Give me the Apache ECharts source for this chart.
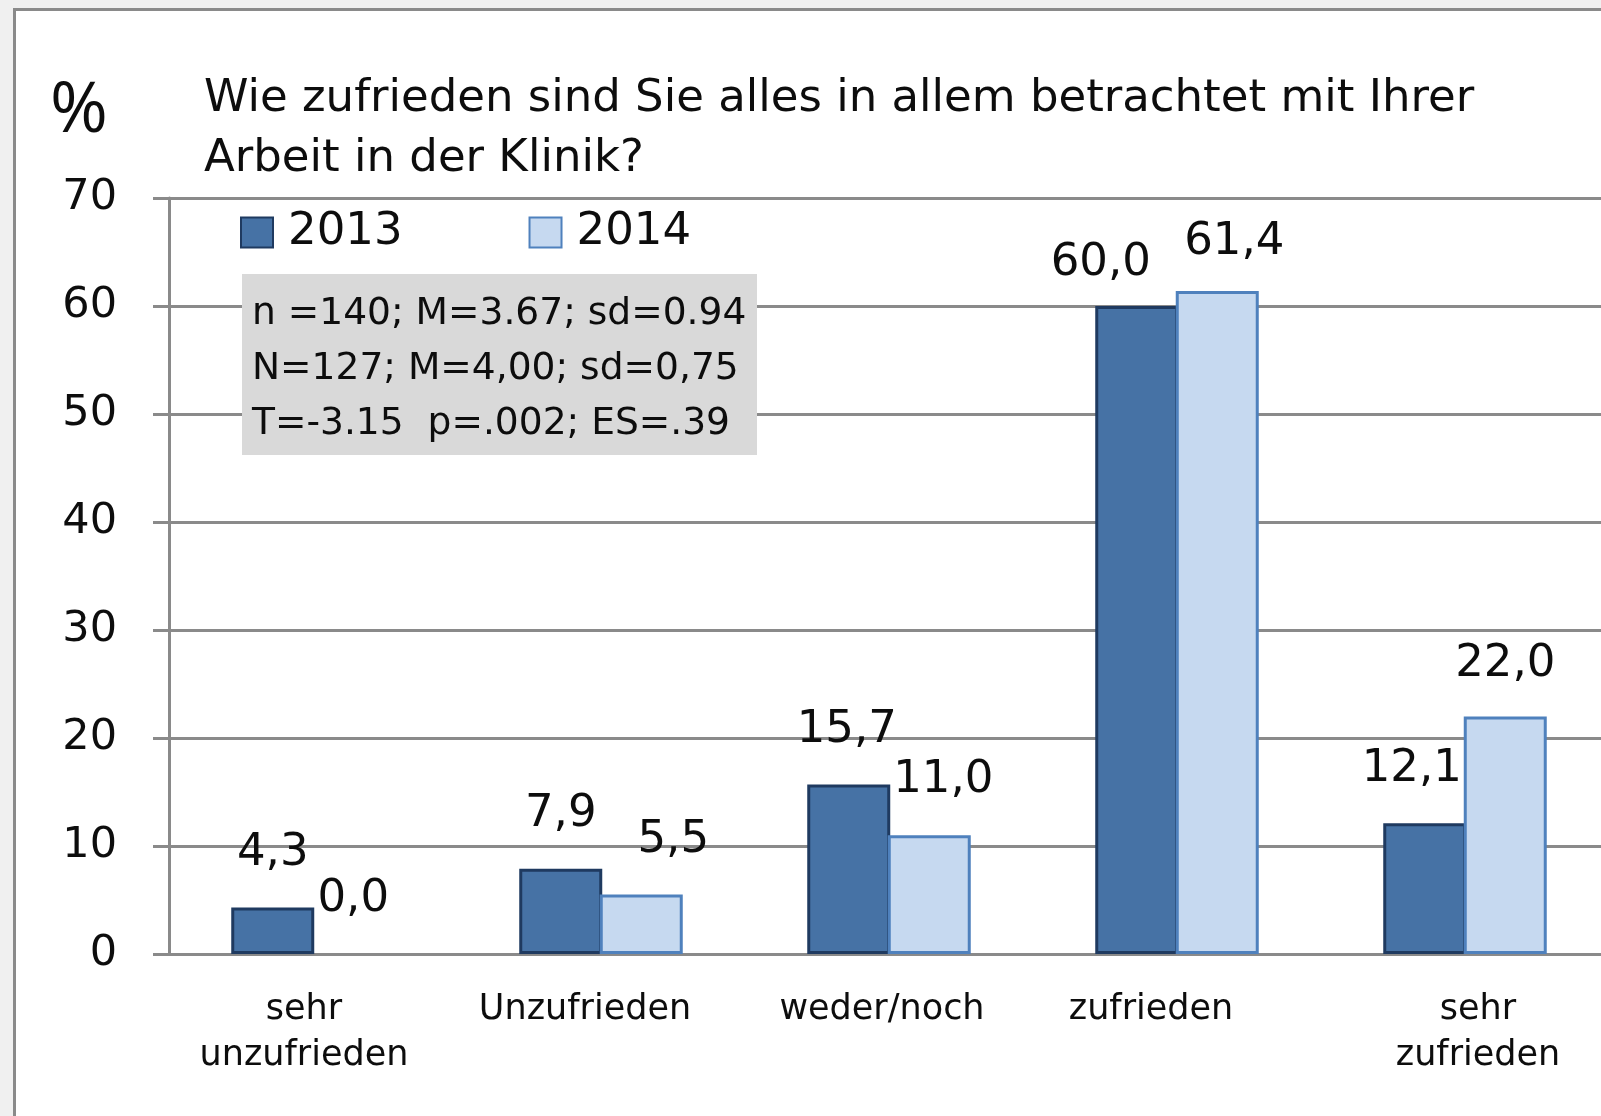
<!DOCTYPE html>
<html>
<head>
<meta charset="utf-8">
<script src="https://cdn.jsdelivr.net/npm/echarts@6/dist/echarts.min.js"></script>
<style>
  html, body { margin: 0; padding: 0; background: #f0f0f0; }
  #chart { width: 1601px; height: 1116px; }
</style>
</head>
<body>
<div id="chart"></div>
<script>
// Kategorien und Werte (%)
const categories = ['sehr\nunzufrieden', 'Unzufrieden', 'weder/noch', 'zufrieden', 'sehr\nzufrieden']
const years = ['2013', '2014']
const values2013 = [4.3, 7.9, 15.7, 60.0, 12.1]
const values2014 = [0.0, 5.5, 11.0, 61.4, 22.0]
const yTicks = { min: 0, max: 70, interval: 10 }
const statsLines = [
  'n =140; M=3.67; sd=0.94',
  'N=127; M=4,00; sd=0,75',
  'T=-3.15  p=.002; ES=.39'
]

// manuelle Verschiebung der Beschriftungen wie im Original [dx, dy]
const nudge2013 = [[0, 0], [0, 0], [-2, 0], [-36, 12], [-13, 0]]
const nudge2014 = [[0, 0], [32, 0], [14, 0], [17, 6], [0, 2]]
// Kategorie-Beschriftungen sind im Original leicht versetzt (dx)
const catShift = [-9, -16, -7, -26, 13]

const FONT = '"DejaVu Sans", "Open Sans", sans-serif'
const TEXT = '#0d0d0d'
const GRID = '#8a8a8a'

const chart = echarts.init(document.getElementById('chart'))

function fmt (v) {
  return v.toFixed(1).replace('.', ',')
}

function buildData (vals, nudge) {
  return vals.map((v, i) => {
    const item = { value: v, label: { offset: nudge[i] } }
    if (v === 0) item.itemStyle = { borderWidth: 0 }
    return item
  })
}

// Verschiebung über asymmetrisches padding (Text bleibt zentriert)
const catData = categories.map((c, i) => {
  const d = catShift[i]
  const pad = d < 0 ? [0, -2 * d, 0, 0] : [0, 0, 0, 2 * d]
  return { value: c, textStyle: { padding: pad } }
})

const labelStyle = {
  show: true,
  position: 'top',
  distance: 32,
  fontFamily: FONT,
  fontSize: 45,
  color: TEXT,
  formatter: (p) => fmt(p.value)
}

const statsText = statsLines.map((line, i) => ({
  type: 'text',
  left: 252,
  top: 311 + i * 55 - 16,
  z: 101,
  style: { text: line, font: '37.6px ' + FONT, fill: TEXT }
}))

const option = {
  backgroundColor: '#ffffff',
  animation: false,
  title: {
    text: 'Wie zufrieden sind Sie alles in allem betrachtet mit Ihrer\nArbeit in der Klinik?',
    left: 204,
    top: 69,
    padding: 0,
    textStyle: { fontFamily: FONT, fontSize: 45, fontWeight: 'normal', color: TEXT, lineHeight: 60 }
  },
  legend: {
    left: 240,
    top: 210,
    padding: 0,
    itemWidth: 32,
    itemHeight: 30,
    itemGap: 126,
    icon: 'rect',
    textStyle: { fontFamily: FONT, fontSize: 45, color: TEXT, padding: [0, 0, 0, 10] },
    data: years
  },
  grid: { left: 169, top: 198, width: 1440, height: 756, containLabel: false, outerBoundsMode: 'none' },
  xAxis: {
    type: 'category',
    data: catData,
    axisLine: { show: true, lineStyle: { color: GRID, width: 3 } },
    axisTick: { show: false },
    axisLabel: { margin: 33, fontFamily: FONT, fontSize: 35, color: TEXT, lineHeight: 46, interval: 0 }
  },
  yAxis: {
    type: 'value',
    min: yTicks.min,
    max: yTicks.max,
    interval: yTicks.interval,
    axisLine: { show: true, lineStyle: { color: GRID, width: 3 } },
    axisTick: { show: true, length: 16, lineStyle: { color: GRID, width: 3 } },
    splitLine: { show: true, lineStyle: { color: GRID, width: 3 } },
    axisLabel: { margin: 52, fontFamily: FONT, fontSize: 43, color: TEXT }
  },
  series: [
    {
      name: years[0],
      type: 'bar',
      barWidth: 83,
      barGap: '-3%',
      itemStyle: { color: '#4672a5', borderColor: '#1f3a60', borderWidth: 3 },
      label: labelStyle,
      data: buildData(values2013, nudge2013)
    },
    {
      name: years[1],
      type: 'bar',
      barWidth: 83,
      barGap: '-3%',
      itemStyle: { color: '#c6d9f0', borderColor: '#4f81bd', borderWidth: 3 },
      label: labelStyle,
      data: buildData(values2014, nudge2014)
    }
  ],
  graphic: [
    // äußerer Rahmen
    {
      type: 'rect',
      z: -10,
      shape: { x: 0, y: 0, width: 1601, height: 9 },
      style: { fill: '#f0f0f0' }
    },
    {
      type: 'rect',
      z: -10,
      shape: { x: 0, y: 0, width: 13, height: 1116 },
      style: { fill: '#f0f0f0' }
    },
    {
      type: 'rect',
      z: 100,
      shape: { x: 14.5, y: 9.5, width: 1700, height: 1200 },
      style: { fill: 'none', stroke: '#8a8a8a', lineWidth: 3 }
    },
    {
      type: 'text',
      left: 50,
      top: 77,
      z: 101,
      style: { text: '%', font: '70px "Open Sans", sans-serif', fill: TEXT }
    },
    {
      type: 'rect',
      z: 100,
      shape: { x: 242, y: 274, width: 515, height: 181 },
      style: { fill: '#d9d9d9' }
    },
    ...statsText
  ]
}

chart.setOption(option)
</script>
</body>
</html>
